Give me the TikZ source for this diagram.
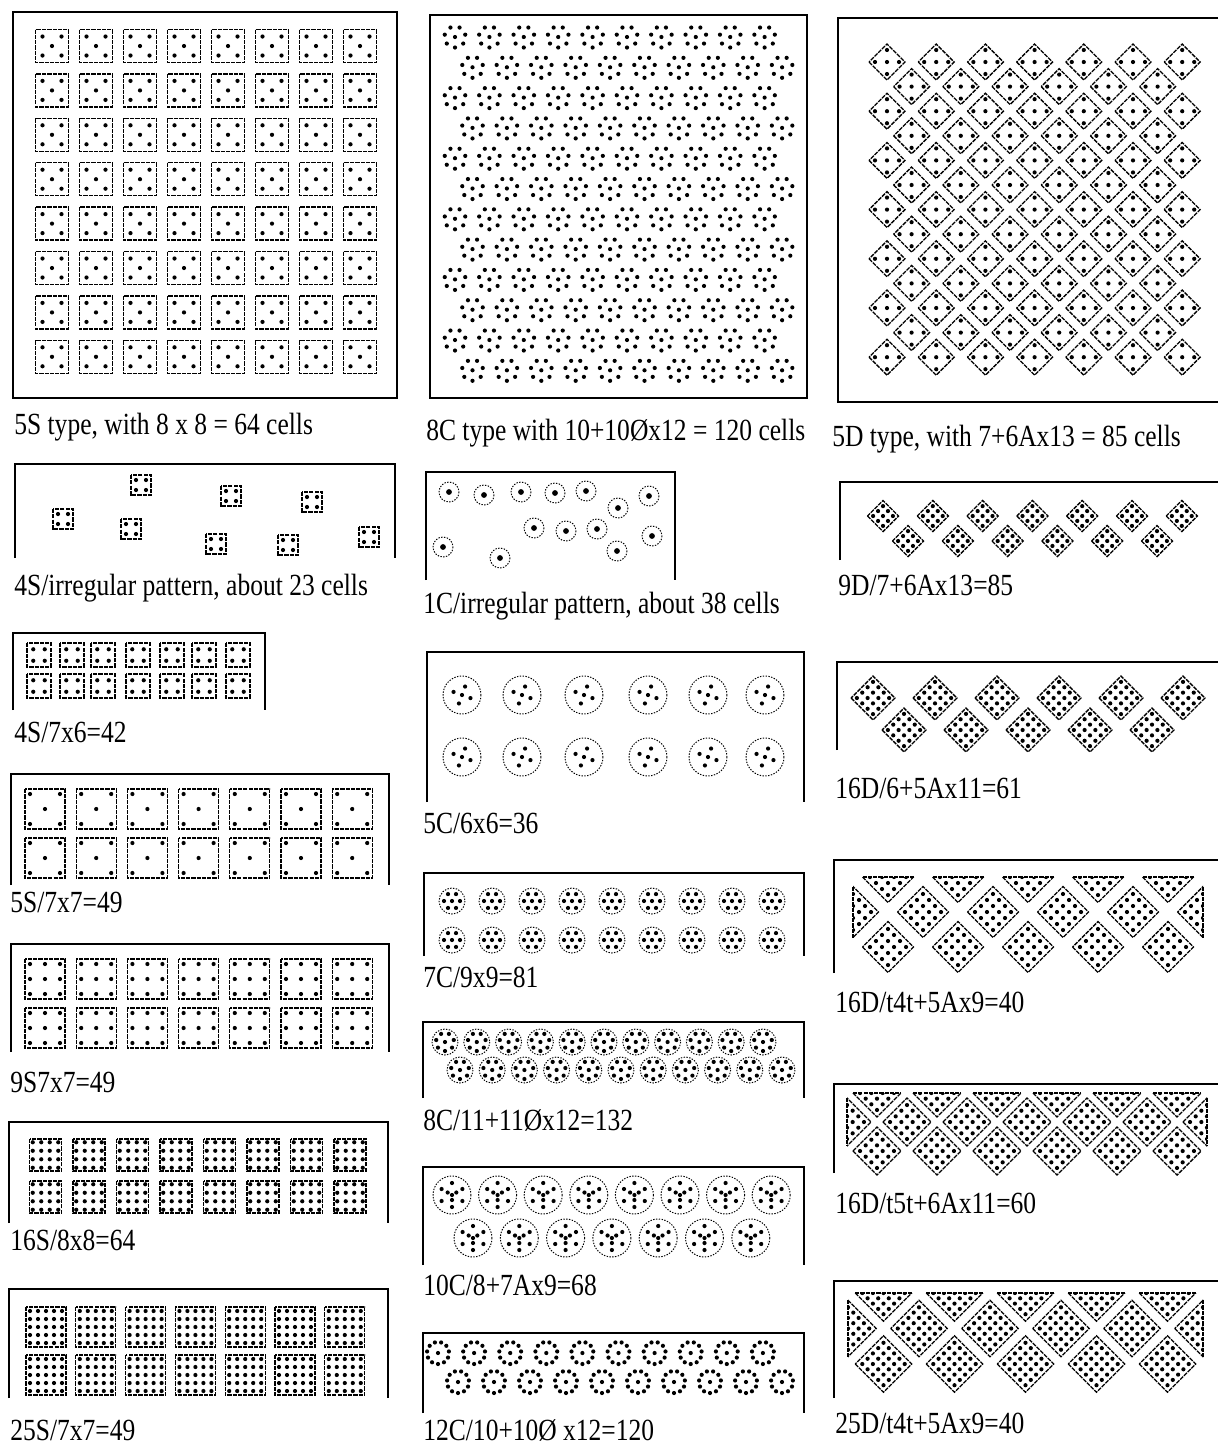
\documentclass[tikz,border=0pt]{standalone}
\usepackage{fontspec}
\setmainfont{Liberation Serif}[FakeStretch=0.83]
\usetikzlibrary{positioning}

\def\dr{2.1}
% square cell, half side #1, #2 x #2 dots, #3 apart
\newcommand\gridbody[3]{%
  \draw[cellbox] (-#1,-#1) rectangle (#1,#1);
  \pgfmathsetmacro\gOff{(#2-1)/2}
  \foreach \gi in {1,...,#2}{\foreach \gj in {1,...,#2}{
    \fill ({(\gi-1-\gOff)*#3},{(\gj-1-\gOff)*#3}) circle[radius=\dr];}}}
\newcommand\sqcell[5]{\begin{scope}[shift={(#1,#2)}]\gridbody{#3}{#4}{#5}\end{scope}}
\newcommand\dmcell[5]{\begin{scope}[shift={(#1,#2)},rotate=45]\gridbody{#3}{#4}{#5}\end{scope}}
% dice five
\newcommand\fivebody[2]{%
  \draw[cellbox] (-#1,-#1) rectangle (#1,#1);
  \foreach \fa/\fb in {-1/-1,1/-1,-1/1,1/1,0/0}{\fill ({\fa*#2},{\fb*#2}) circle[radius=\dr];}}
\newcommand\fivecell[4]{\begin{scope}[shift={(#1,#2)}]\fivebody{#3}{#4}\end{scope}}
\newcommand\fivedm[4]{\begin{scope}[shift={(#1,#2)},rotate=45]\fivebody{#3}{#4}\end{scope}}
% round cells
\newcommand\dotring[5]{\begin{scope}[shift={(#1,#2)}]
  \foreach \ang in {1,...,#4}{\fill ({#5+360*\ang/#4}:#3) circle[radius=\dr];}\end{scope}}
\newcommand\ccell[6]{\draw[ringline] (#1,#2) circle[radius=#3];
  \fill (#1,#2) circle[radius=\dr];\dotring{#1}{#2}{#4}{#5}{#6}}
% panels
\newcommand\openpanel[4]{\draw[frame] (#1,#4) -- (#1,#2) -- (#3,#2) -- (#3,#4);}
\newcommand\edgepanel[3]{\draw[frame] (#1,#3) -- (#1,#2) -- (1218,#2);}

\begin{document}
\begin{tikzpicture}[x=0.02cm, y=-0.02cm,
  frame/.style={line width=1.1pt},
  cellbox/.style={line width=0.75pt, dash pattern=on 2.4pt off 0.6pt},
  ringline/.style={line width=0.55pt, dash pattern=on 0.8pt off 0.8pt},
  capt/.style={anchor=base west, inner sep=0pt, font=\fontsize{17.5}{20}\selectfont},
]
\useasboundingbox (0,0) rectangle (1218,1448);

% ---- left column: square cells
\draw[frame] (13,12) rectangle (397,398);
\foreach \ri in {0,...,7}{\foreach \ci in {0,...,7}{\fivecell{52+44*\ci}{46+44.4*\ri}{16.5}{9.5}}}
\node[capt] (c5s) at (14,434) {5S type, with 8 x 8 = 64 cells};

\openpanel{15}{464}{395}{558}
\foreach \x/\y in {63/519,141/485,131/529,231/496,216/544,312/502,288/545,369/537}{\sqcell{\x}{\y}{10}{2}{10}}
\node[capt] (c4si) at (14,595) {4S/irregular pattern, about 23 cells};

\openpanel{13}{633}{265}{710}
\foreach \y in {655,686}{\foreach \x in {39,72,103,138,172,204,238}{\sqcell{\x}{\y}{12}{2}{11.5}}}
\node[capt] (c4s) at (14,742) {4S/7x6=42};

\openpanel{11}{774}{389}{885}
\foreach \y in {809,858}{\foreach \ci in {0,...,6}{\fivecell{45+51.2*\ci}{\y}{20}{15}}}
\node[capt] (c5s7) at (10,912) {5S/7x7=49};

\openpanel{11}{944}{389}{1052}
\foreach \y in {979,1028}{\foreach \ci in {0,...,6}{\sqcell{45+51.2*\ci}{\y}{20}{3}{15}}}
\node[capt] (c9s) at (10,1092) {9S7x7=49};

\openpanel{9}{1122}{388}{1223}
\foreach \y in {1155,1197}{\foreach \ci in {0,...,7}{\sqcell{45.5+43.5*\ci}{\y}{16}{4}{8.5}}}
\node[capt] (c16s) at (10,1250) {16S/8x8=64};

\openpanel{9}{1289}{388}{1398}
\foreach \y in {1327,1375}{\foreach \ci in {0,...,6}{\sqcell{46+49.8*\ci}{\y}{20}{5}{8}}}
\node[capt] (c25s) at (10,1440) {25S/7x7=49};

% ---- middle column: round cells
\draw[frame] (430,15) rectangle (807,398);
\foreach \ri in {0,...,11}{\foreach \ci in {0,...,9}{
  \pgfmathsetmacro\cx{455+17.5*mod(\ri,2)+34.4*\ci}
  \pgfmathsetmacro\cy{37+30.3*\ri}
  \fill (\cx,\cy) circle[radius=\dr];
  \dotring{\cx}{\cy}{10.5}{7}{90}}}
\node[capt] (c8c) at (426,440) {8C type with 10+10Øx12 = 120 cells};

\openpanel{426}{472}{675}{580}
\foreach \x/\y in {449/492,484/495,521/492,555/493,586/491,618/508,649/496,
  534/528,566/531,597/529,652/536,443/547,500/558,617/551}{
  \draw[ringline] (\x,\y) circle[radius=10];
  \fill (\x,\y) circle[radius=2.9];}
\node[capt] (c1c) at (423,613) {1C/irregular pattern, about 38 cells};

\openpanel{427}{652}{804}{802}
\foreach \y in {695,757}{\foreach \x in {462,522,584,648,708,765}{\ccell{\x}{\y}{19}{9}{4}{20}}}
\node[capt] (c5c) at (423,833) {5C/6x6=36};

\openpanel{424}{873}{804}{956}
\foreach \y in {901,940}{\foreach \ci in {0,...,8}{\ccell{452+40*\ci}{\y}{13}{8}{6}{0}}}
\node[capt] (c7c) at (423,987) {7C/9x9=81};

\openpanel{423}{1022}{804}{1098}
\foreach \ci in {0,...,10}{\ccell{445+31.8*\ci}{1042}{13}{9}{7}{90}\ccell{460+32.2*\ci}{1070}{13}{9}{7}{90}}
\node[capt] (c8cs) at (423,1130) {8C/11+11Øx12=132};

\openpanel{423}{1167}{804}{1265}
\foreach \ci in {0,...,7}{\ccell{452+45.6*\ci}{1195}{19}{12}{6}{30}\dotring{452+45.6*\ci}{1195}{5}{3}{90}}
\foreach \ci in {0,...,6}{\ccell{473+46.3*\ci}{1238}{19}{12}{6}{30}\dotring{473+46.3*\ci}{1238}{5}{3}{90}}
\node[capt] (c10c) at (423,1295) {10C/8+7Ax9=68};

\openpanel{423}{1333}{804}{1413}
\foreach \ci in {0,...,9}{
  \fill (438+36.1*\ci,1353) circle[radius=\dr]; \dotring{438+36.1*\ci}{1353}{11}{11}{90}
  \fill (458+36*\ci,1382) circle[radius=\dr]; \dotring{458+36*\ci}{1382}{11}{11}{90}}
\node[capt] (c12c) at (423,1440) {12C/10+10Ø x12=120};

% ---- right column: diamond cells
\draw[frame] (1218,18) -- (838,18) -- (838,402) -- (1218,402);
\foreach \ri in {0,2,...,12}{\foreach \ci in {0,...,6}{\fivedm{887+49.2*\ci}{62+24.6*\ri}{12.7}{8.5}}}
\foreach \ri in {1,3,...,11}{\foreach \ci in {0,...,5}{\fivedm{911.6+49.2*\ci}{62+24.6*\ri}{12.7}{8.5}}}
\node[capt] (c5d) at (832,446) {5D type, with 7+6Ax13 = 85 cells};

\edgepanel{840}{482}{560}
\foreach \ci in {0,...,6}{\dmcell{883+49.8*\ci}{516}{11}{3}{7}}
\foreach \ci in {0,...,5}{\dmcell{908+49.8*\ci}{541}{11}{3}{7}}
\node[capt] (c9d) at (838,595) {9D/7+6Ax13=85};

\edgepanel{837}{662}{750}
\foreach \ci in {0,...,5}{\dmcell{873+62*\ci}{698}{15.5}{4}{7.6}}
\foreach \ci in {0,...,4}{\dmcell{904+62*\ci}{730}{15.5}{4}{7.6}}
\node[capt] (c16d) at (835,798) {16D/6+5Ax11=61};

\edgepanel{834}{860}{973}
\begin{scope}
  \clip (853,877) rectangle (1203,990);
  \foreach \ci in {0,...,4}{\dmcell{888+70*\ci}{877}{18}{4}{8.5}}
  \foreach \ci in {0,...,5}{\dmcell{853+70*\ci}{912}{18}{4}{8.5}}
\end{scope}
\foreach \ci in {0,...,4}{\draw[cellbox] (862.5+70*\ci,877) -- (913.5+70*\ci,877);}
\draw[cellbox] (853,886.5) -- (853,937.5) (1203,886.5) -- (1203,937.5);
\foreach \ci in {0,...,4}{\dmcell{888+70*\ci}{947}{18}{4}{8.5}}
\node[capt] (c16dt) at (835,1012) {16D/t4t+5Ax9=40};

\edgepanel{834}{1084}{1173}
\begin{scope}
  \clip (847,1093) rectangle (1207,1200);
  \foreach \ci in {0,...,5}{\dmcell{877+60*\ci}{1093}{17}{4}{8}}
  \foreach \ci in {0,...,6}{\dmcell{847+60*\ci}{1122}{17}{4}{8}}
\end{scope}
\foreach \ci in {0,...,5}{\draw[cellbox] (853+60*\ci,1093) -- (901+60*\ci,1093);}
\draw[cellbox] (847,1098) -- (847,1146) (1207,1098) -- (1207,1146);
\foreach \ci in {0,...,5}{\dmcell{877+60*\ci}{1151}{17}{4}{8}}
\node[capt] (c16dt5) at (835,1213) {16D/t5t+6Ax11=60};

\edgepanel{834}{1281}{1398}
\begin{scope}
  \clip (848,1293) rectangle (1203,1420);
  \foreach \ci in {0,...,4}{\dmcell{883.5+71*\ci}{1293}{20}{5}{7.5}}
  \foreach \ci in {0,...,5}{\dmcell{848+71*\ci}{1328.5}{20}{5}{7.5}}
\end{scope}
\foreach \ci in {0,...,4}{\draw[cellbox] (855.2+71*\ci,1293) -- (911.8+71*\ci,1293);}
\draw[cellbox] (848,1300.2) -- (848,1356.8) (1203,1300.2) -- (1203,1356.8);
\foreach \ci in {0,...,4}{\dmcell{883.5+71*\ci}{1364}{20}{5}{7.5}}
\node[capt] (c25d) at (835,1433) {25D/t4t+5Ax9=40};
\end{tikzpicture}
\end{document}
